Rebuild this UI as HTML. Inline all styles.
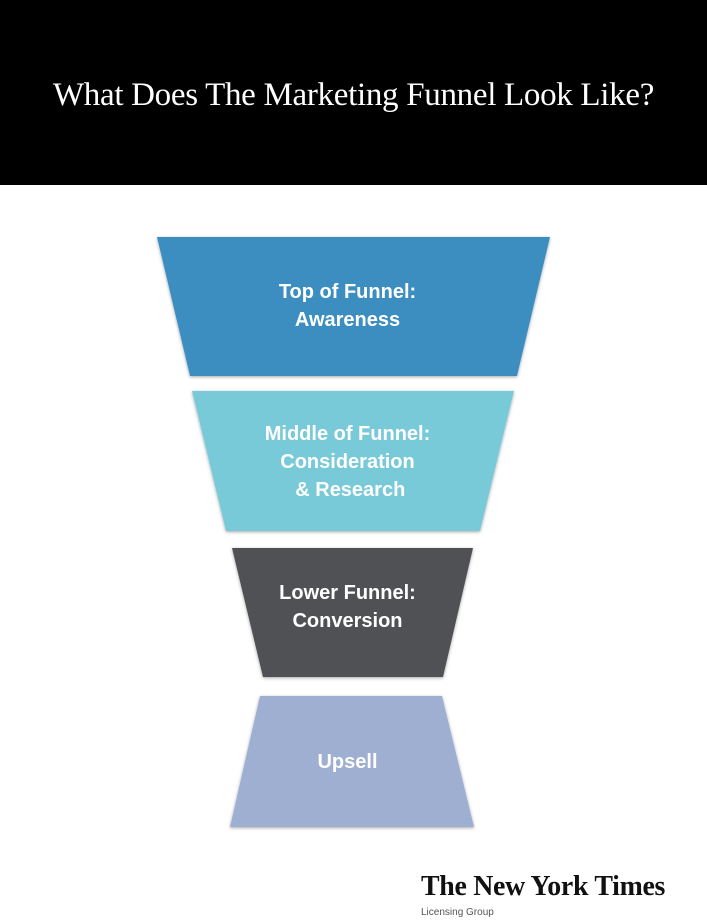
<!DOCTYPE html>
<html><head><style>
body{margin:0;width:707px;height:923px;background:#fff;position:relative;overflow:hidden;font-family:"Liberation Sans",sans-serif}
.hdr{position:absolute;left:0;top:0;width:707px;height:185px;background:#000}
.hdr div{position:absolute;top:77px;width:707px;text-align:center;color:#fff;font-family:"Liberation Serif",serif;font-size:33px;letter-spacing:-0.3px}
.t{position:absolute;width:707px;left:-6px;text-align:center;color:#fff;font-weight:bold;font-size:20px;line-height:28px}
</style></head><body>
<div class="hdr"><div>What Does The Marketing Funnel Look Like?</div></div>
<svg width="707" height="923" style="position:absolute;left:0;top:0">
<defs><filter id="s" x="-10%" y="-10%" width="120%" height="130%"><feDropShadow dx="0" dy="1" stdDeviation="1.5" flood-color="#000" flood-opacity="0.35"/></filter></defs>
<polygon points="157,237 550,237 517,376 190,376" fill="#3a8ebf" filter="url(#s)"/>
<polygon points="192,391 514,391 480,531 226,531" fill="#79cad9" filter="url(#s)"/>
<polygon points="232,548 473,548 443,677 263,677" fill="#505154" filter="url(#s)"/>
<polygon points="260,696 442,696 474,827 230,827" fill="#9eafd1" filter="url(#s)"/>
</svg>
<div class="t" style="top:278px">Top of Funnel:<br>Awareness</div>
<div class="t" style="top:420px">Middle of Funnel:<br>Consideration<br>&nbsp;&amp; Research</div>
<div class="t" style="top:579px">Lower Funnel:<br>Conversion</div>
<div class="t" style="top:748px">Upsell</div>
<div style="position:absolute;left:421px;top:870px;font-family:'Liberation Serif',serif;font-weight:bold;font-size:29px;color:#111;letter-spacing:-0.3px;transform:scaleX(0.96);transform-origin:left">The New York Times</div>
<div style="position:absolute;left:421px;top:907px;font-size:10px;color:#555">Licensing Group</div>
</body></html>
